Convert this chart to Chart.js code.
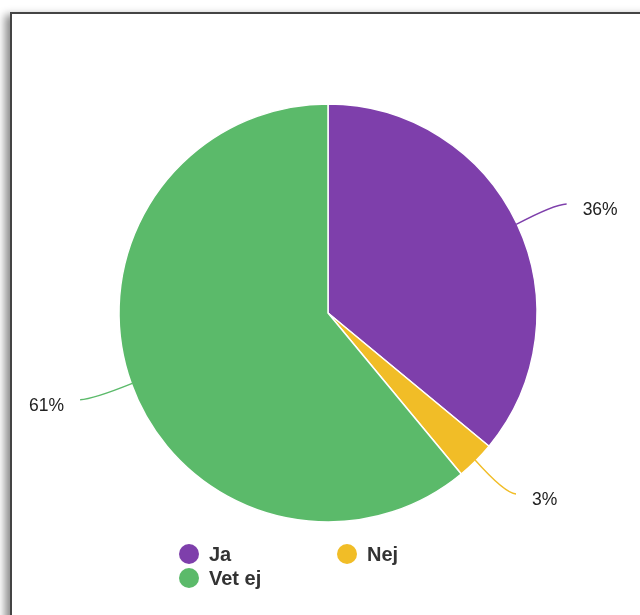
<!DOCTYPE html>
<html>
<head>
<meta charset="utf-8">
<script src="https://cdn.jsdelivr.net/npm/chart.js@4.4.1/dist/chart.umd.min.js"></script>
<style>
    html, body { margin: 0; padding: 0; background: #fff; overflow: hidden; }
    .panel {
        position: absolute; left: 10px; top: 12px; width: 700px; height: 700px;
        border-top: 2px solid #444; border-left: 2px solid #444;
        box-shadow: -5px 3px 8px rgba(0, 0, 0, 0.45);
        background: #fff;
    }
    #wrap { position: absolute; left: 0; top: 0; width: 640px; height: 615px; }
</style>
</head>
<body>
<div class="panel"></div>
<div id="wrap"><canvas id="chart"></canvas></div>
<script>
var labels = ["Ja", "Nej", "Vet ej"];
var values = [36, 3, 61];
var colors = ["#7e3fab", "#f1bd27", "#5bba6a"];

// leader lines + percentage labels, google-charts style
var sliceLabels = {
    id: "sliceLabels",
    afterDatasetsDraw: function(chart) {
        var ctx = chart.ctx;
        var arcs = chart.getDatasetMeta(0).data;
        var total = values.reduce(function(a, b) { return a + b; }, 0);
        ctx.save();
        for (var i = 0; i < arcs.length; i++) {
            var arc = arcs[i];
            var mid = (arc.startAngle + arc.endAngle) / 2;
            var cx = Math.cos(mid), cy = Math.sin(mid);
            var r = arc.outerRadius;
            var dir = cx >= 0 ? 1 : -1;
            var sx = arc.x + cx * (r - 1), sy = arc.y + cy * (r - 1);
            var kx = sx + cx * 42, ky = sy + cy * 47;
            var ex = sx + cx * 48 + dir * 7, ey = sy + cy * 48;
            ctx.beginPath();
            ctx.moveTo(sx, sy);
            ctx.quadraticCurveTo(kx, ky, ex, ey);
            ctx.strokeStyle = colors[i];
            ctx.lineWidth = 1.4;
            ctx.stroke();
            ctx.fillStyle = "#222";
            ctx.font = "17.5px 'Liberation Sans', Arial, sans-serif";
            ctx.textBaseline = "middle";
            ctx.textAlign = dir > 0 ? "left" : "right";
            var txt = Math.round(values[i] / total * 100) + "%";
            ctx.fillText(txt, ex + dir * 16, ey + 6.5);
        }
        ctx.restore();
    }
};

// two-column legend under the pie
var gridLegend = {
    id: "gridLegend",
    afterDraw: function(chart) {
        var ctx = chart.ctx;
        var x0 = 189, y0 = 554, colW = 158, rowH = 24;
        ctx.save();
        ctx.font = "bold 20px 'Liberation Sans', Arial, sans-serif";
        ctx.textBaseline = "middle";
        ctx.textAlign = "left";
        for (var i = 0; i < labels.length; i++) {
            var col = i < 2 ? i : 0;
            var row = i < 2 ? 0 : 1;
            var x = x0 + col * colW, y = y0 + row * rowH;
            ctx.beginPath();
            ctx.arc(x, y, 10, 0, Math.PI * 2);
            ctx.fillStyle = colors[i];
            ctx.fill();
            ctx.fillStyle = "#333";
            ctx.fillText(labels[i], x + 20, y + 1);
        }
        ctx.restore();
    }
};

new Chart(document.getElementById("chart"), {
    type: "pie",
    data: {
        labels: labels,
        datasets: [{
            data: values,
            backgroundColor: colors,
            borderColor: "#fff",
            borderWidth: 1.5
        }]
    },
    options: {
        responsive: true,
        maintainAspectRatio: false,
        animation: false,
        radius: 209,
        layout: { padding: { left: 116, right: 100, top: 101, bottom: 90 } },
        plugins: {
            legend: { display: false },
            tooltip: { enabled: false }
        }
    },
    plugins: [sliceLabels, gridLegend]
});
</script>
</body>
</html>
